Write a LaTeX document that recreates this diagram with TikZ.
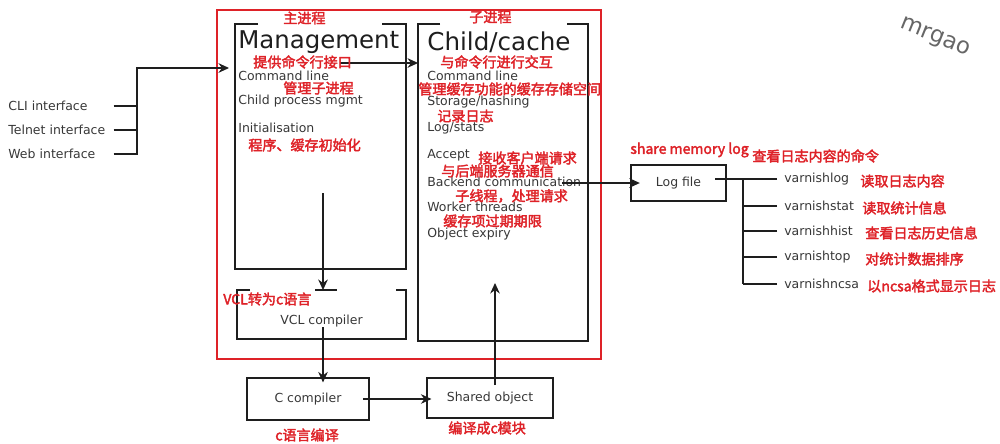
\documentclass[tikz,border=0pt]{standalone}
\usepackage{fontspec}
\setmainfont{DejaVu Sans}
\newfontfamily\cjk[FakeBold=2.5]{Noto Sans CJK SC}
\usetikzlibrary{arrows.meta, positioning}
\definecolor{notered}{RGB}{222,34,40}
\definecolor{linegray}{RGB}{30,30,30}
\definecolor{textgray}{RGB}{55,55,55}

\begin{document}
\begin{tikzpicture}[
        x=0.02cm, y=-0.02cm,
        box/.style={
            draw=linegray,
            line width=1.1pt
        },
        procbox/.style={
            rectangle,
            inner sep=0pt,
            outer sep=0pt
        },
        smallbox/.style={
            rectangle,
            draw=linegray,
            line width=1.1pt,
            inner sep=0pt,
            outer sep=0pt,
            text=textgray,
            font=\fontsize{7.1}{8.5}\selectfont
        },
        itemtext/.style={
            anchor=west,
            inner sep=0pt,
            text=textgray,
            font=\fontsize{7.1}{8.5}\selectfont
        },
        heading/.style={
            anchor=west,
            inner sep=0pt,
            text=linegray
        },
        note/.style={
            anchor=west,
            inner sep=0pt,
            text=notered,
            font=\cjk\fontsize{8}{9.5}\selectfont
        },
        link/.style={
            line width=0.6pt,
            draw=linegray
        },
        arrow/.style={
            -{Stealth[length=6pt, width=5.5pt, inset=2pt]},
            line width=0.6pt,
            draw=linegray
        }
    ]
    \useasboundingbox (0,0) rectangle (1000,443);

    % Red frame round the varnishd processes
    \node[procbox, draw=notered, line width=1.2pt, minimum width=7.68cm, minimum height=6.98cm] (frame) at (409,184.5) {};

    % Management process
    \node[procbox, minimum width=3.42cm, minimum height=4.9cm] (mgmt) at (320.5,146.5) {};
    \draw[box] (mgmt.north west) ++(23,0) -- (mgmt.north west) -- (mgmt.south west)
        -- (mgmt.south east) -- (mgmt.north east) -- ++(-24,0);
    \node[heading, font=\fontsize{13.9}{15}\selectfont] (mgmttitle) at (238,42) {Management};
    \node[itemtext] (mcmd) at (238,76) {Command line};
    \node[itemtext] (mchild) at (238,101) {Child process mgmt};
    \node[itemtext] (minit) at (238,128) {Initialisation};

    % Child process
    \node[procbox, minimum width=3.4cm, minimum height=6.34cm] (child) at (503,182.5) {};
    \draw[box] (child.north west) ++(22,0) -- (child.north west) -- (child.south west)
        -- (child.south east) -- (child.north east) -- ++(-21,0);
    \node[heading, font=\fontsize{14}{16}\selectfont] (childtitle) at (427,42) {Child/cache};
    \node[itemtext] (ccmd) at (427,76) {Command line};
    \node[itemtext] (cstore) at (427,102) {Storage/hashing};
    \node[itemtext] (clog) at (427,128) {Log/stats};
    \node[itemtext] (caccept) at (427,155) {Accept};
    \node[itemtext] (cback) at (427,182) {Backend communication};
    \node[itemtext] (cworker) at (427,207) {Worker threads};
    \node[itemtext] (cexpiry) at (427,234) {Object expiry};

    % VCL compiler
    \node[procbox, minimum width=3.38cm, minimum height=0.98cm] (vcl) at (321.5,314.5) {};
    \draw[box] (vcl.north west) ++(13,0) -- (vcl.north west) -- (vcl.south west)
        -- (vcl.south east) -- (vcl.north east) -- ++(-10,0);
    \draw[box] (vcl.north) ++(-6.5,0) -- ++(22,0);
    \node[itemtext, anchor=center] (vcltext) at (321.5,321) {VCL compiler};

    % Compiler chain
    \node[smallbox, minimum width=2.44cm, minimum height=0.84cm] (ccomp) at (308,399) {C compiler};
    \node[smallbox, minimum width=2.52cm, minimum height=0.8cm] (shared) at (490,398) {Shared object};

    % Interfaces
    \node[itemtext, text width=2.1cm] (cli) at (8,106) {CLI interface};
    \node[itemtext, text width=2.1cm] (telnet) at (8,130) {Telnet interface};
    \node[itemtext, text width=2.1cm] (web) at (8,154) {Web interface};
    \coordinate (bus) at (137,68);
    \coordinate (mgmtin) at (229,68);
    \draw[link] (cli.east) -- (cli.east -| bus);
    \draw[link] (telnet.east) -- (telnet.east -| bus);
    \draw[arrow] (web.east) -| (bus) -- (mgmtin);

    % Connectors between the processes
    \coordinate (mcmdout) at (340,63);
    \draw[arrow] (mcmdout) -- (mcmdout -| child.west);
    \coordinate (mgmtout) at (323,193);
    \draw[arrow] (mgmtout) -- (mgmtout |- vcl.north);
    \coordinate (vclout) at (323,327);
    \draw[arrow, shorten >=-2.5pt] (vclout) -- (vclout |- ccomp.north);
    \coordinate (ccompout) at (363,399);
    \draw[arrow, shorten >=-2.5pt] (ccompout) -- (ccompout -| shared.west);
    \coordinate (sharedout) at (495,385);
    \coordinate (childin) at (495,283);
    \draw[arrow] (sharedout) -- (childin);

    % Shared memory log
    \node[smallbox, minimum width=1.9cm, minimum height=0.72cm] (logfile) at (678.5,183) {Log file};
    \coordinate (backout) at (562,183);
    \draw[arrow, shorten >=-5pt] (backout) -- (logfile.west);
    \coordinate (tree) at (743,179);
    \draw[link] (logfile.east) ++(-11,-4) -- (tree);
    \foreach \tool/\y/\dx/\desc in {varnishlog/179/860/读取日志内容,
                                    varnishstat/206/862/读取统计信息,
                                    varnishhist/231/865/查看日志历史信息,
                                    varnishtop/257/865/对统计数据排序,
                                    varnishncsa/284/867/以ncsa格式显示日志} {
        \node[itemtext] (\tool) at (784,\y) {\tool};
        \draw[link] (\tool.west) ++(-7,0) -- (tree |- \tool.west);
        \node[note] (\tool note) at (\dx,\y+2) {\desc};
    }
    \draw[link] (tree) -- (tree |- varnishncsa.west);

    % Red notes
    \node[note] (mgmtnote) at (283,18) {主进程};
    \node[note] (mcmdnote) at (253,62) {提供命令行接口};
    \node[note] (mchildnote) at (283,88) {管理子进程};
    \node[note] (minitnote) at (248,145) {程序、缓存初始化};
    \node[note] (childnote) at (469,17) {子进程};
    \node[note] (ccmdnote) at (440,62) {与命令行进行交互};
    \node[note] (cstorenote) at (418,89) {管理缓存功能的缓存存储空间};
    \node[note] (clognote) at (437,116) {记录日志};
    \node[note] (cacceptnote) at (478,158) {接收客户端请求};
    \node[note] (cbacknote) at (441,171) {与后端服务器通信};
    \node[note] (cworkernote) at (455,196) {子线程，处理请求};
    \node[note] (cexpirynote) at (443,221) {缓存项过期期限};
    \node[note] (vclnote) at (223,299) {VCL转为c语言};
    \node[note] (ccompnote) at (275,435) {c语言编译};
    \node[note] (sharednote) at (448,428) {编译成c模块};
    \node[note] (shmnote) at (630,150) {share memory log};
    \node[note] (toolsnote) at (752,156) {查看日志内容的命令};

    % Watermark
    \node[rotate=-22, text=black!60, font=\fontsize{13}{15}\selectfont] (mark) at (935,38) {mrgao};

\end{tikzpicture}
\end{document}
